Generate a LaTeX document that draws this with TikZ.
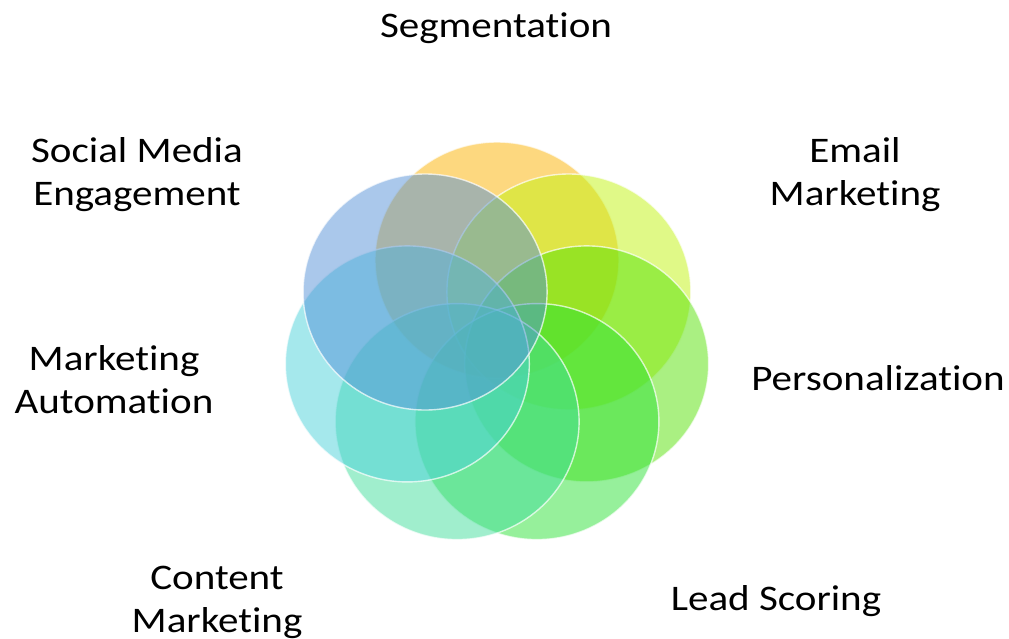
\documentclass[tikz,border=0pt]{standalone}
\usepackage{fontspec}
\setmainfont{Carlito}[FakeStretch=1.14,Ligatures=NoCommon]
\definecolor{segcol}{RGB}{251,177,0}
\definecolor{emailcol}{RGB}{193,243,15}
\definecolor{perscol}{RGB}{85,225,5}
\definecolor{leadcol}{RGB}{45,225,55}
\definecolor{contcol}{RGB}{65,221,155}
\definecolor{autocol}{RGB}{75,209,218}
\definecolor{socialcol}{RGB}{85,145,215}

\begin{document}
\begin{tikzpicture}[x=1pt,y=-1pt,
	petal/.style={fill opacity=0.5,draw=white,draw opacity=0.7,line width=1.4pt},
	every node/.style={font=\fontsize{36}{43}\selectfont,align=center,inner sep=0pt}]
\useasboundingbox (0,0) rectangle (1009,639);
\def\cx{497}
\def\cy{345}
\def\ringx{92}
\def\ringy{85}

%circles
\foreach \ang/\col in {90/segcol,38.57/emailcol,-12.86/perscol,-64.29/leadcol,-115.71/contcol,-167.14/autocol,141.43/socialcol}{
	\pgfmathsetmacro{\px}{\cx+\ringx*cos(\ang)}
	\pgfmathsetmacro{\py}{\cy-\ringy*sin(\ang)}
	\filldraw[petal,fill=\col] (\px,\py) ellipse [x radius=122,y radius=118];
}

%labels
\node (seg) at (496,28) {Segmentation};
\node (email) at (855,175) {Email\\Marketing};
\node (pers) at (878,378) {Personalization};
\node (lead) at (776,601) {Lead Scoring};
\node (content) at (217,602) {Content\\Marketing};
\node (auto) at (114,380) {Marketing\\Automation};
\node (social) at (137,175) {Social Media\\Engagement};

\end{tikzpicture}
\end{document}
